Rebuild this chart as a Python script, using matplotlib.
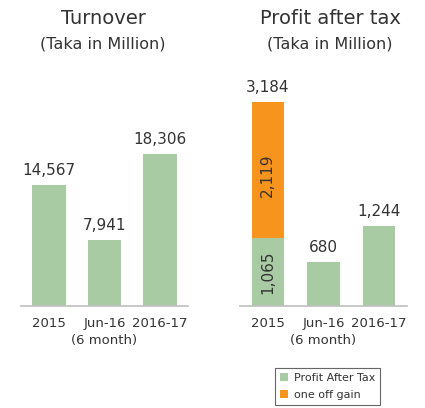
import matplotlib
matplotlib.use("Agg")
import matplotlib.pyplot as plt

# data
categories = ["2015", "Jun-16\n(6 month)", "2016-17"]
turnover = [14567, 7941, 18306]
profit_after_tax = [1065, 680, 1244]
one_off_gain = [2119, 0, 0]

GREEN = "#a9cba4"
ORANGE = "#f7941d"
TEXT = "#333333"
AXIS = "#bfbfbf"

W, H = 425, 408
fig = plt.figure(figsize=(W / 100, H / 100), dpi=100)
plt.rcParams["font.family"] = ["DejaVu Sans"]


def px_axes(left, right, top, bottom):
    return fig.add_axes([left / W, 1 - bottom / H, (right - left) / W, (bottom - top) / H])


def style(ax, ymax):
    ax.set_xlim(-0.5, 2.5)
    ax.set_ylim(0, ymax)
    for s in ["top", "right", "left"]:
        ax.spines[s].set_visible(False)
    ax.spines["bottom"].set_color(AXIS)
    ax.spines["bottom"].set_linewidth(1.2)
    ax.set_yticks([])
    ax.set_xticks(range(len(categories)))
    ax.set_xticklabels(categories, fontsize=9.5, color=TEXT, linespacing=1.35)
    ax.tick_params(axis="x", length=0, pad=8)


# left: turnover
ax1 = px_axes(21, 188, 56, 306)
style(ax1, 30190)
x = range(len(categories))
ax1.bar(x, turnover, width=0.61, color=GREEN)
for i, v in enumerate(turnover):
    ax1.annotate(f"{v:,}", (i, v), xytext=(0, 5), textcoords="offset points",
                 ha="center", va="bottom", fontsize=11, color=TEXT)
fig.text(103 / W, 1 - 19 / H, "Turnover", ha="center", va="center", fontsize=14, color=TEXT)
fig.text(103 / W, 1 - 44 / H, "(Taka in Million)", ha="center", va="center", fontsize=11.5, color=TEXT)

# right: profit after tax
ax2 = px_axes(240, 407, 56, 306)
style(ax2, 3900)
b1 = ax2.bar(x, profit_after_tax, width=0.575, color=GREEN, label="Profit After Tax")
b2 = ax2.bar(x, one_off_gain, width=0.575, bottom=profit_after_tax, color=ORANGE, label="one off gain")
for i in x:
    total = profit_after_tax[i] + one_off_gain[i]
    ax2.annotate(f"{total:,}", (i, total), xytext=(0, 5), textcoords="offset points",
                 ha="center", va="bottom", fontsize=11, color=TEXT)
    if one_off_gain[i]:
        ax2.text(i, profit_after_tax[i] / 2, f"{profit_after_tax[i]:,}", rotation=90,
                 ha="center", va="center", fontsize=11, color=TEXT)
        ax2.text(i, profit_after_tax[i] + one_off_gain[i] * 0.46, f"{one_off_gain[i]:,}", rotation=90,
                 ha="center", va="center", fontsize=11, color=TEXT)
fig.text(330 / W, 1 - 19 / H, "Profit after tax", ha="center", va="center", fontsize=14, color=TEXT)
fig.text(330 / W, 1 - 44 / H, "(Taka in Million)", ha="center", va="center", fontsize=11.5, color=TEXT)

leg = fig.legend(handles=[b1, b2], loc="upper left", bbox_to_anchor=(275 / W, 1 - 368 / H),
                 fontsize=8, frameon=True, fancybox=False, handlelength=0.75, handleheight=0.75,
                 handletextpad=0.5, borderpad=0.45, labelspacing=0.6, borderaxespad=0)
leg.get_frame().set_edgecolor("#404040")
leg.get_frame().set_linewidth(0.8)
for t in leg.get_texts():
    t.set_color(TEXT)

fig.savefig("out.png", dpi=100)
